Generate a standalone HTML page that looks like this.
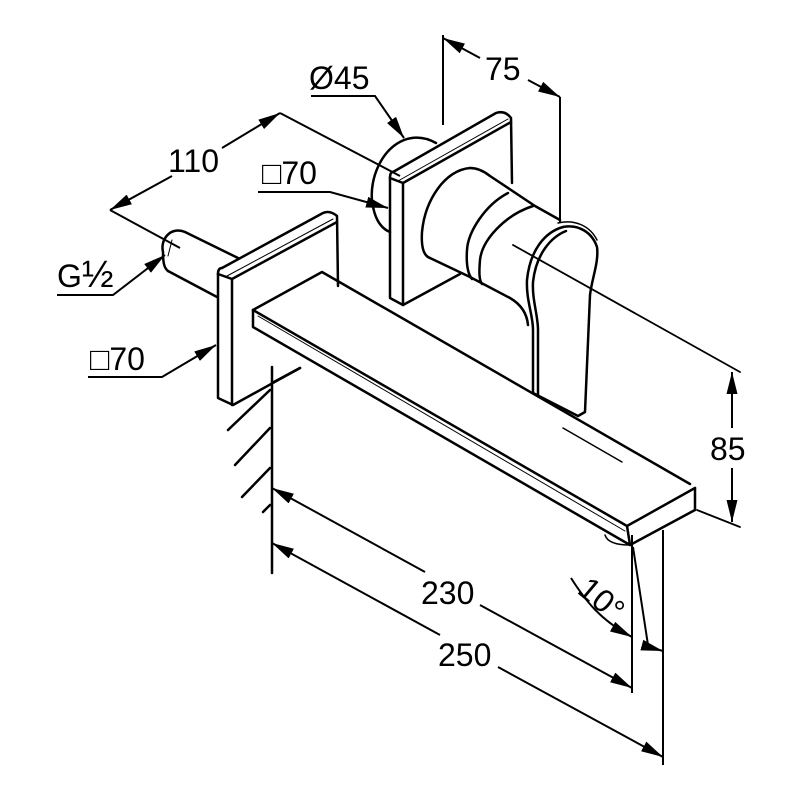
<!DOCTYPE html>
<html><head><style>
html,body{margin:0;padding:0;background:#fff;}
svg{display:block;}
text{font-family:"Liberation Sans",sans-serif;font-size:32px;fill:#000;}
</style></head><body>
<svg width="800" height="800" viewBox="0 0 800 800" xmlns="http://www.w3.org/2000/svg">
<defs>
<marker id="a" viewBox="0 0 20 10" refX="20" refY="5" markerWidth="22" markerHeight="11" markerUnits="userSpaceOnUse" orient="auto-start-reverse">
<path d="M0,0 L20,5 L0,10 Z" fill="#000"/></marker>
</defs>
<g fill="none" stroke="#000" stroke-width="2.5" stroke-linejoin="round" stroke-linecap="round">
<!-- pipe -->
<path d="M185,232 L238,258"/>
<path d="M168,271 L217,297"/>
<path d="M185,232 C170,226 160,240 163,252 C163,262 164,268 168,271"/>
<path d="M172,240 L168,256" stroke-width="1"/>
<!-- left plate -->
<path d="M222,268 L323,213 Q330,210 337,216 L338,286"/>
<path d="M218,274 Q218,268 222,268"/>
<path d="M218,274 L218,398 L233,405 L300,368"/>
<path d="M232,279 L337,222"/>
<path d="M232,279 L232,405"/>
<path d="M218,274 L232,279"/>
<path d="M227,276 L333,219" stroke-width="1"/>
<!-- spout -->
<path d="M253,310 L322,272 L690,484"/>
<path d="M253,310 L627,526 L695,488"/>
<path d="M253,310 L253,327 L630,545 L695,510 L695,488"/>
<path d="M627,526 L630,545"/>
<path d="M258,316 L625,531" stroke-width="1"/>
<path d="M605,535 Q608,545 630,545" stroke-width="1.5"/>
<path d="M563,428 L622,462" stroke-width="1.5"/>
<!-- wall -->
<path d="M272,367 L272,573"/>
<path d="M300,368 L272,383"/>
<path d="M270,390 L228,430 M270,428 L235,465 M270,468 L242,497 M270,505 L263,512"/>
<!-- escutcheon -->
<path d="M404,140 Q420,134 436,143"/>
<path d="M404,140 C380,150 370,180 372,200 C374,218 380,228 390,232"/>
<!-- right plate -->
<path d="M393,172 L496,113 Q505,110 511,118 L512,183"/>
<path d="M390,178 Q390,172 393,172"/>
<path d="M390,178 L390,298 L403,305 L460,274"/>
<path d="M403,183 L511,122"/>
<path d="M390,178 L403,183 L403,305"/>
<path d="M398,181 L508,119" stroke-width="1"/>
<!-- handle body -->
<path d="M470,168 C445,170 425,200 422,232 C421,248 424,256 430,258"/>
<path d="M470,168 Q480,168 490,176 L535,206 L560,220"/>
<path d="M430,258 L470,277"/>
<path d="M508,193 C485,205 468,232 467,250 C466,265 468,274 472,279"/>
<path d="M533,206 C505,215 482,240 480,260 C479,272 479,280 482,284"/>
<path d="M470,277 L510,298 C522,305 527,314 528,325"/>
<!-- lever -->
<path d="M563,227 C578,224 592,232 597,247 C599,262 592,278 590,295 L585,412 L578,416 L533,393"/>
<path d="M563,227 C545,232 530,250 527,280 C526,300 533,315 533,330 L533,393"/>
<path d="M566,231 C551,237 536,254 533,282 C532,300 538,315 538,330 L538,396"/>
<path d="M558,223 C575,219 590,226 597,240" stroke-width="1.5"/>
<!-- handle axis / 85 extension -->
<path d="M513,245 L740,372" stroke-width="1.8"/>
<path d="M697,510 L740,527" stroke-width="1.8"/>
</g>
<g fill="none" stroke="#000" stroke-width="2">
<path d="M180,248 L110,210"/>
<path d="M110,210 L172,176" marker-start="url(#a)"/>
<path d="M222,148 L280,113" marker-end="url(#a)"/>
<path d="M280,113 L400,176"/>
<path d="M311,96 L375,96 L404,138" marker-end="url(#a)"/>
<path d="M443,35 L443,125"/>
<path d="M560,97 L560,222"/>
<path d="M443,38 L480,58" marker-start="url(#a)"/>
<path d="M528,80 L560,97" marker-end="url(#a)"/>
<path d="M258,192 L330,192 L388,208" marker-end="url(#a)"/>
<path d="M57,295 L113,295 L165,255" marker-end="url(#a)"/>
<path d="M88,377 L162,377 L216,345" marker-end="url(#a)"/>
<path d="M732,372 L732,428" marker-start="url(#a)"/>
<path d="M732,468 L732,522" marker-end="url(#a)"/>
<path d="M272,488 L425,572" marker-start="url(#a)"/>
<path d="M480,605 L632,688" marker-end="url(#a)"/>
<path d="M632,535 L632,693"/>
<path d="M272,543 L440,635" marker-start="url(#a)"/>
<path d="M498,667 L663,757" marker-end="url(#a)"/>
<path d="M663,530 L663,765"/>
<path d="M633,547 L648,645"/>
<path d="M571,578 C585,600 600,620 632,637" marker-end="url(#a)"/>
<path d="M645,646 L663,651" marker-end="url(#a)"/>
</g>
<text x="168" y="172">110</text>
<text x="309" y="89">Ø45</text>
<text x="485" y="80">75</text>
<text x="262" y="184">□70</text>
<text x="57" y="287">G<tspan font-size="38">½</tspan></text>
<text x="90" y="370">□70</text>
<text x="710" y="460">85</text>
<text x="421" y="604">230</text>
<text x="438" y="666">250</text>
<text x="0" y="0" transform="translate(576,592) rotate(40)">10°</text>
</svg>
</body></html>
